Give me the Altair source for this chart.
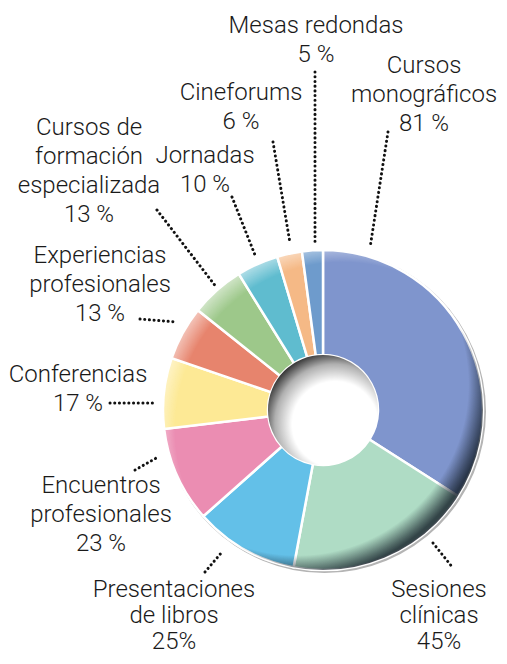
import altair as alt
import pandas as pd

categories = ["Cursos monográficos", "Sesiones clínicas", "Presentaciones de libros",
              "Encuentros profesionales", "Conferencias", "Experiencias profesionales",
              "Cursos de formación especializada", "Jornadas", "Cineforums", "Mesas redondas"]
values = [81, 45, 25, 23, 17, 13, 13, 10, 6, 5]
label_names = ["Cursos\nmonográficos", "Sesiones\nclínicas", "Presentaciones\nde libros",
               "Encuentros\nprofesionales", "Conferencias", "Experiencias\nprofesionales",
               "Cursos de\nformación\nespecializada", "Jornadas", "Cineforums", "Mesas redondas"]
value_texts = ["81 %", "45%", "25%", "23 %", "17 %", "13 %", "13 %", "10 %", "6 %", "5 %"]
colors = ["#7f95cd", "#afdcc5", "#63c0e8", "#eb8db2", "#fde995",
          "#e7846d", "#9dc88a", "#5fbccf", "#f5b986", "#6e9bcc"]

# label layout (page pixels): centre x, first-line baseline, tight line spacing flag
label_x = [424, 439, 174, 101, 78, 100, 89, 205, 241, 316]
label_y = [73, 597, 597, 493, 382, 263, 135, 163, 100, 33]
label_tight = [False, True, True, False, False, False, False, False, False, False]

# leader line layout (page pixels)
lead_x1 = [388, 433, 205, 135, 110, 140, 157, 232, 273, 315]
lead_y1 = [132, 543, 572, 470, 403, 319, 210, 197, 142, 72]
lead_x2 = [370, 453, 222, 158, 153, 177, 217, 255, 290, 315]
lead_y2 = [248, 568, 552, 457, 403, 322, 288, 255, 243, 243]

M = 8
CX, CY = 323 - M, 410 - M
R_OUT, R_IN = 160, 55
FS = 24

df = pd.DataFrame({
    "category": categories,
    "value": values,
    "order": list(range(len(categories))),
})
labels = pd.DataFrame({
    "text": [n + "\n" + v for n, v in zip(label_names, value_texts)],
    "lx": [x - M for x in label_x],
    "ly": [y - M - round(0.79 * FS) for y in label_y],
    "tight": label_tight,
})
leads = pd.DataFrame({
    "x1": [x - M for x in lead_x1], "y1": [y - M for y in lead_y1],
    "x2": [x - M for x in lead_x2], "y2": [y - M for y in lead_y2],
})
one = pd.DataFrame({"a": [0]})

shadow = alt.Chart(one).mark_arc(
    theta=0, theta2=6.2832, outerRadius=R_OUT + 1.5, innerRadius=R_IN,
    color="#777777", opacity=0.55
).encode(x=alt.value(CX + 1.5), y=alt.value(CY + 1.5))

slices = alt.Chart(df).mark_arc(
    outerRadius=R_OUT, innerRadius=R_IN, stroke="white", strokeWidth=2.5
).encode(
    theta=alt.Theta("value:Q", stack=True),
    order=alt.Order("order:Q"),
    color=alt.Color("category:N", scale=alt.Scale(domain=categories, range=colors), legend=None),
    x=alt.value(CX), y=alt.value(CY),
)

dark_rim = alt.Chart(one).mark_arc(
    theta=0, theta2=6.2832, outerRadius=R_OUT, innerRadius=R_IN,
    color=alt.RadialGradient(
        gradient="radial", x1=0.42, y1=0.42, r1=0, x2=0.42, y2=0.42, r2=0.6,
        stops=[alt.GradientStop(offset=0, color="rgba(20,30,40,0)"),
               alt.GradientStop(offset=0.89, color="rgba(20,30,40,0)"),
               alt.GradientStop(offset=0.97, color="rgba(20,30,40,0.6)"),
               alt.GradientStop(offset=1, color="rgba(20,30,40,0.8)")])
).encode(x=alt.value(CX), y=alt.value(CY))

light_rim = alt.Chart(one).mark_arc(
    theta=0, theta2=6.2832, outerRadius=R_OUT, innerRadius=R_IN,
    color=alt.RadialGradient(
        gradient="radial", x1=0.56, y1=0.56, r1=0, x2=0.56, y2=0.56, r2=0.58,
        stops=[alt.GradientStop(offset=0, color="rgba(255,255,255,0)"),
               alt.GradientStop(offset=0.9, color="rgba(255,255,255,0)"),
               alt.GradientStop(offset=1, color="rgba(255,255,255,0.5)")])
).encode(x=alt.value(CX), y=alt.value(CY))

hole = alt.Chart(one).mark_arc(
    theta=0, theta2=6.2832, outerRadius=R_IN, innerRadius=0,
    color=alt.RadialGradient(
        gradient="radial", x1=0.62, y1=0.64, r1=0.12, x2=0.6, y2=0.62, r2=0.66,
        stops=[alt.GradientStop(offset=0, color="#ffffff"),
               alt.GradientStop(offset=0.5, color="#ffffff"),
               alt.GradientStop(offset=0.78, color="#b0b0b0"),
               alt.GradientStop(offset=1, color="#303030")])
).encode(x=alt.value(CX), y=alt.value(CY))

lead_lines = alt.Chart(leads).mark_rule(
    color="#111111", strokeWidth=3, strokeDash=[0.1, 4.6], strokeCap="round"
).encode(
    x=alt.X("x1:Q", scale=None, axis=None), y=alt.Y("y1:Q", scale=None, axis=None),
    x2="x2:Q", y2="y2:Q",
)

text_enc = dict(
    x=alt.X("lx:Q", scale=None, axis=None), y=alt.Y("ly:Q", scale=None, axis=None),
    text="text:N",
)
text_style = dict(font="Roboto", fontWeight=300, fontSize=FS, lineBreak="\n",
                  align="center", baseline="top", color="#1a1a1a")

texts = alt.Chart(labels).transform_filter("!datum.tight").mark_text(
    lineHeight=29, **text_style).encode(**text_enc)
texts_tight = alt.Chart(labels).transform_filter("datum.tight").mark_text(
    lineHeight=26, **text_style).encode(**text_enc)

chart = alt.layer(shadow, slices, dark_rim, light_rim, hole, lead_lines, texts, texts_tight).properties(
    width=491, height=648, padding=0, autosize=alt.AutoSizeParams(type="none")
).configure_view(stroke=None)

chart.save("out.html", embed_options={"renderer": "svg", "actions": False})
